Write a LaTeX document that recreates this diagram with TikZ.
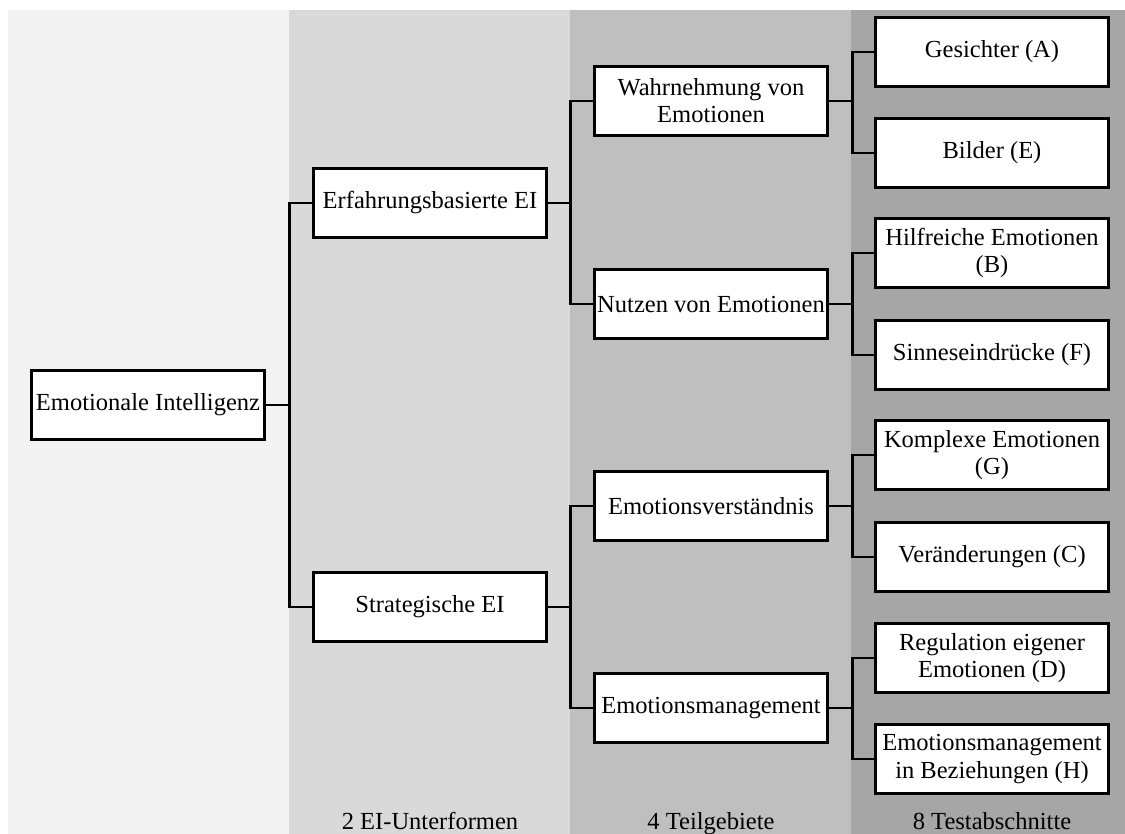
\documentclass[tikz,border=0pt]{standalone}
\usepackage{fontspec}
\setmainfont{Liberation Serif}
\definecolor{bandA}{HTML}{F2F2F2}
\definecolor{bandB}{HTML}{D9D9D9}
\definecolor{bandC}{HTML}{BFBFBF}
\definecolor{bandD}{HTML}{A6A6A6}
\tikzset{
  box/.style={draw, fill=white, line width=2.3pt, minimum width=175pt, minimum height=52pt,
    inner sep=1pt, align=center, font=\fontsize{18.4}{20.3}\selectfont},
  link/.style={line width=2pt},
  lbl/.style={anchor=base, inner sep=0pt, font=\fontsize{18.4}{20.3}\selectfont}
}
\begin{document}
\begin{tikzpicture}[x=0.75pt, y=-0.75pt]
\useasboundingbox (0,0) rectangle (1125,834);
\fill[white] (0,0) rectangle (1125,834);
\fill[bandA] (8,10) rectangle (289,834);
\fill[bandB] (289,10) rectangle (570,834);
\fill[bandC] (570,10) rectangle (851,834);
\fill[bandD] (851,10) rectangle (1125,834);
\node[box] (ei0) at (148,405){Emotionale Intelligenz};
\node[box] (ei1) at (430,203){Erfahrungsbasierte EI};
\node[box] (ei2) at (430,607){Strategische EI};
\draw[link](ei0.east) -- ++(23,0) |- (ei1.west);
\draw[link](ei0.east) -- ++(23,0) |- (ei2.west);
\node[box] (ei3) at (711,101){Wahrnehmung von\\Emotionen};
\node[box] (ei4) at (711,304){Nutzen von Emotionen};
\draw[link](ei1.east) -- ++(22,0) |- (ei3.west);
\draw[link](ei1.east) -- ++(22,0) |- (ei4.west);
\node[box] (ei5) at (711,506){Emotionsverständnis};
\node[box] (ei6) at (711,708){Emotionsmanagement};
\draw[link](ei2.east) -- ++(22,0) |- (ei5.west);
\draw[link](ei2.east) -- ++(22,0) |- (ei6.west);
\node[box] (ei7) at (992,52){Gesichter (A)};
\node[box] (ei8) at (992,153){Bilder (E)};
\draw[link](ei3.east) -- ++(23,0) |- (ei7.west);
\draw[link](ei3.east) -- ++(23,0) |- (ei8.west);
\node[box] (ei9) at (992,253){Hilfreiche Emotionen\\(B)};
\node[box] (ei10) at (992,355){Sinneseindrücke (F)};
\draw[link](ei4.east) -- ++(23,0) |- (ei9.west);
\draw[link](ei4.east) -- ++(23,0) |- (ei10.west);
\node[box] (ei11) at (992,455){Komplexe Emotionen\\(G)};
\node[box] (ei12) at (992,557){Veränderungen (C)};
\draw[link](ei5.east) -- ++(23,0) |- (ei11.west);
\draw[link](ei5.east) -- ++(23,0) |- (ei12.west);
\node[box] (ei13) at (992,658){Regulation eigener\\Emotionen (D)};
\node[box] (ei14) at (992,759){Emotionsmanagement\\in Beziehungen (H)};
\draw[link](ei6.east) -- ++(23,0) |- (ei13.west);
\draw[link](ei6.east) -- ++(23,0) |- (ei14.west);
\node[lbl] (lvl2) at (430,829){2 EI-Unterformen};
\node[lbl] (lvl4) at (711,829){4 Teilgebiete};
\node[lbl] (lvl8) at (992,829){8 Testabschnitte};
\end{tikzpicture}
\end{document}
